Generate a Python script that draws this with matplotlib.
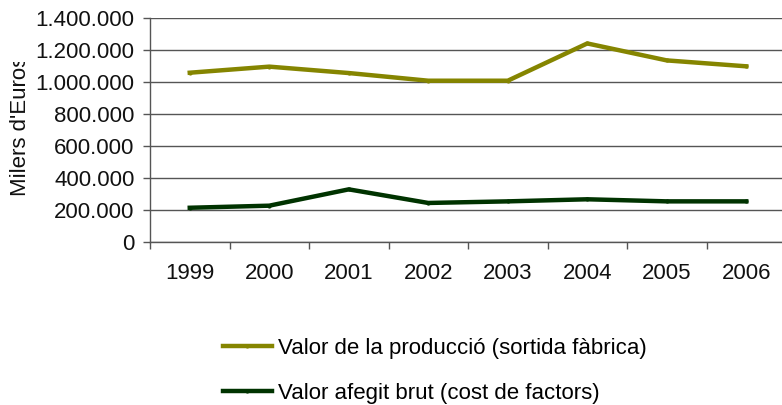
import matplotlib
matplotlib.use('Agg')
import matplotlib.pyplot as plt
from matplotlib.ticker import FuncFormatter, FixedLocator
from matplotlib.transforms import Bbox, TransformedBbox

plt.rcParams['font.family'] = ['Liberation Sans', 'DejaVu Sans']

anys = ['1999', '2000', '2001', '2002', '2003', '2004', '2005', '2006']
produccio = [1058000, 1096000, 1056000, 1008000, 1008000, 1241000, 1135000, 1098000]
afegit = [214000, 227000, 329000, 244000, 254000, 267000, 254000, 254000]
etiquetes = ['Valor de la producció (sortida fàbrica)', 'Valor afegit brut (cost de factors)']

W, H = 782, 405
fs = 16
fig = plt.figure(figsize=(W / 100, H / 100), dpi=100)
ax = fig.add_axes([150 / W, 163 / H, 636 / W, 224 / H])

x = list(range(len(anys)))
ax.plot(x, produccio, color='#858500', lw=3.2, marker='.', ms=4, label=etiquetes[0])
ax.plot(x, afegit, color='#003300', lw=3.2, marker='.', ms=4, label=etiquetes[1])

ax.set_xlim(-0.5, len(anys) - 0.5)
ax.set_ylim(0, 1400000)
ax.set_yticks(range(0, 1400001, 200000))
ax.yaxis.set_major_formatter(FuncFormatter(lambda v, p: f'{int(v):,}'.replace(',', '.')))
ax.grid(axis='y', color='#555555', lw=1)
ax.set_axisbelow(True)

ax.set_xticks(x)
ax.set_xticklabels(anys)
ax.xaxis.set_minor_locator(FixedLocator([i - 0.5 for i in range(len(anys) + 1)]))
ax.tick_params(axis='x', which='major', length=0, pad=15, labelsize=fs, colors='#111111')
ax.tick_params(axis='x', which='minor', length=5, width=1, color='#555555')
ax.tick_params(axis='y', length=5, width=1, color='#555555', pad=6, labelsize=fs, labelcolor='#111111')

for s in ['top', 'right']:
    ax.spines[s].set_visible(False)
for s in ['left', 'bottom']:
    ax.spines[s].set_color('#555555')
    ax.spines[s].set_linewidth(1)

t = fig.text(21 / W, (H - 196) / H, "Milers d'Euros", rotation=90, ha='center', va='bottom',
             fontsize=fs, color='#111111')
t.set_clip_box(TransformedBbox(Bbox([[0, 0], [1, (H - 62) / H]]), fig.transFigure))
t.set_clip_on(True)

fig.legend(loc='center', bbox_to_anchor=(435 / W, (H - 371) / H), frameon=False,
           fontsize=fs, handlelength=2.2, handletextpad=0.3, labelspacing=1.1)

fig.savefig('out.png', dpi=100)
